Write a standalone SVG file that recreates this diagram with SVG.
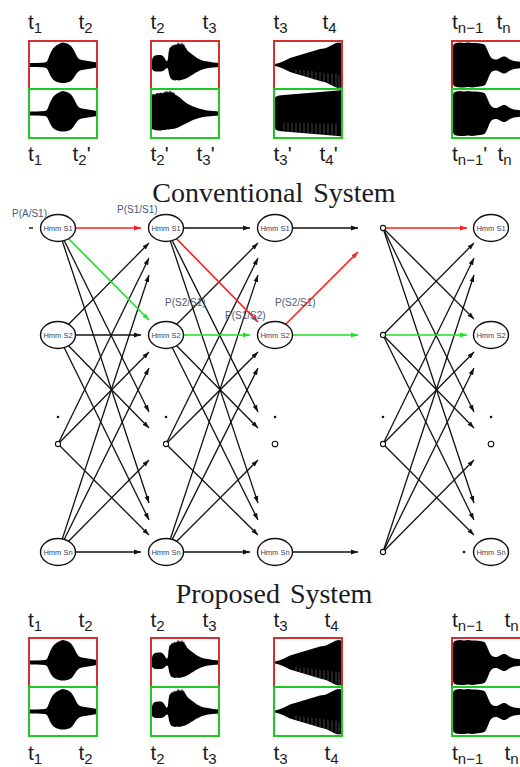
<svg xmlns="http://www.w3.org/2000/svg" xmlns:xlink="http://www.w3.org/1999/xlink" width="520" height="767" viewBox="0 0 520 767">
<style>
.t{font-family:"Liberation Sans",Arial,sans-serif;font-size:21px;fill:#1c1c24}
.s{font-size:15px}
.title{font-family:"Liberation Serif","Times New Roman",serif;font-size:28px;fill:#1a1a22;text-anchor:middle;word-spacing:3px}
.rb{fill:none;stroke:#d43030;stroke-width:2}
.gb{fill:none;stroke:#22c822;stroke-width:2}
.wf{fill:#000}
.stri{stroke:#fff;stroke-width:0.6;stroke-opacity:0.45}
.e{fill:none;stroke:#111;stroke-width:1.3}
.er{fill:none;stroke:#ff1c1c;stroke-width:1.6}
.eg{fill:none;stroke:#1ee01e;stroke-width:1.6}
.node ellipse{fill:#fff;stroke:#111;stroke-width:1.4}
.node text{font-family:"Liberation Sans",Arial,sans-serif;font-size:7.5px;fill:#3a4058;text-anchor:middle}
.sc{fill:#fff;stroke:#111;stroke-width:1.1}
.dot{fill:#111}
.pl{font-family:"Liberation Sans",Arial,sans-serif;font-size:10px;fill:#4a5878}
</style>
<defs>
<marker id="mk" markerUnits="userSpaceOnUse" markerWidth="8" markerHeight="6" refX="7" refY="3" orient="auto" viewBox="0 0 8 6"><path d="M0,0.6 L7,3 L0,5.4 Z" fill="#111"/></marker>
<marker id="mr" markerUnits="userSpaceOnUse" markerWidth="8" markerHeight="6" refX="7" refY="3" orient="auto" viewBox="0 0 8 6"><path d="M0,0.6 L7,3 L0,5.4 Z" fill="#ff1c1c"/></marker>
<marker id="mg" markerUnits="userSpaceOnUse" markerWidth="8" markerHeight="6" refX="7" refY="3" orient="auto" viewBox="0 0 8 6"><path d="M0,0.6 L7,3 L0,5.4 Z" fill="#1ee01e"/></marker>
<path id="wA" class="wf" d="M0,-2 L8,-2 L16,-2.5 L18,-3.5 L19.5,-7 L21,-11 L22.5,-14 L24,-16.5 L26,-18.5 L28,-20 L30,-21 L32,-22 L34,-22.5 L36,-22 L38,-21.5 L40,-20.5 L42,-19 L43.5,-17 L45,-14.5 L46.5,-11.5 L48,-8.5 L49.5,-6.5 L51,-5.5 L53,-5 L56,-4.5 L59,-4 L62,-3.5 L65,-3 L68,-2.5 L68,2.5 L65,3 L62,3.5 L59,4 L56,4.5 L53,5 L51,5.5 L49.5,6.5 L48,8 L46.5,10 L45,12.5 L43.5,14.5 L42,16 L40,17 L38,17.5 L36,18 L34,18 L32,18 L30,17.5 L28,17 L26,16 L24,14.5 L22.5,12.5 L21,10 L19.5,6.5 L18,3.5 L16,2.5 L8,2 L0,2 Z"/>
<path id="wB" class="wf" d="M0,-2 L1,-5 L2,-8 L4,-9.5 L7,-10 L10,-10 L12,-9 L13.5,-7 L15,-4.5 L16,-3.5 L17,-6 L17.5,-12 L18.5,-17 L20,-18 L21,-20 L22,-18.5 L23,-21 L24,-19.5 L25,-21 L26,-20 L27,-23 L28,-20.5 L29,-22 L30,-20 L31,-23 L32,-20 L33,-21 L34,-18 L35,-17 L36,-15 L38,-13 L40,-11.5 L42,-10 L44,-8.5 L46,-7 L48,-6 L50,-5 L53,-4 L57,-3.5 L62,-2.5 L68,-2 L68,2 L62,2.5 L57,3 L53,4 L50,5 L48,6 L46,7 L44,8 L42,9.5 L40,10.5 L38,12 L36,13 L34,14 L32,14.5 L30,15 L28,15.5 L26,15 L24,15.5 L22,15 L20,14 L19,12 L18,9 L17.5,6 L17,3.5 L16,3 L15,3.5 L13.5,5 L12,6 L10,6.5 L7,6.5 L4,6.5 L2,5.5 L1,4 L0,2 Z"/>
<path id="wBg" class="wf" d="M0,-14 L0.5,-18 L2,-19.5 L4,-19 L6,-20.5 L8,-20 L10,-21 L12,-20 L13,-22 L14,-20.5 L15,-23 L16,-21 L17,-22.5 L18,-20.5 L19,-23.5 L20,-21 L21,-22 L22,-20 L23,-21.5 L24,-19 L26,-18 L28,-16.5 L30,-15 L32,-13 L34,-11.5 L36,-10 L38,-9 L40,-8 L42,-7 L45,-6 L48,-5 L52,-4 L56,-3 L62,-2.5 L68,-2 L68,2 L62,2.5 L56,3 L52,3.5 L48,4.5 L45,5.5 L42,6.5 L40,7.5 L38,8.5 L36,9.5 L34,10.5 L32,11.5 L30,12.5 L28,13.5 L26,14.5 L24,15 L22,15.5 L20,15.5 L18,16 L16,16 L14,16.5 L12,16.5 L10,17 L8,17 L6,17 L4,16.5 L2,16 L0.5,15 L0,12 Z"/>
<g id="wC">
<path class="wf" d="M0,-0.8 L5,-2 L10,-4 L16,-7 L21,-8.5 L26,-10 L31,-11.5 L36,-13 L41,-14.5 L46,-16 L50,-16.5 L52,-17 L54,-18 L56,-19 L58,-20 L60,-21 L62,-22 L65,-22.5 L67,-22 L68,-21 L68,21 L67,22.5 L65,23 L62,22.5 L60,21.5 L58,20.5 L56,19.5 L54,18.5 L52,17.5 L50,17 L46,16 L41,14.5 L36,13 L31,11.5 L26,10 L21,8.5 L16,7 L10,4 L5,2 L0,0.8 Z"/>
<path class="stri" d="M22,4 V8 M26,5 V9.5 M30,5 V11 M34,6 V12.5 M38,6 V13.5 M42,7 V14.5 M46,7 V15.5 M50,8 V16.5 M54,8 V18 M58,9 V20 M62,9 V22 M65,10 V22.5"/>
</g>
<g id="wCg">
<path class="wf" d="M0,-10 L0.5,-15 L2,-17 L5,-18 L10,-18.5 L16,-19 L22,-19.5 L28,-20 L34,-20.5 L40,-21 L46,-21.5 L52,-22 L58,-22.5 L64,-23 L68,-23.5 L68,23 L64,22.5 L58,22 L52,21.5 L46,21 L40,20.5 L34,20 L28,19.5 L22,19 L16,18.5 L10,18 L5,17.5 L2,16.5 L0.5,14 L0,10 Z"/>
<path class="stri" d="M10,9 V17 M14,9 V18 M18,9 V18.5 M22,9 V19 M26,9 V19 M30,9 V19.5 M34,9 V20 M38,10 V20 M42,10 V20.5 M46,10 V21 M50,10 V21 M54,10 V21.5 M58,10 V22 M62,10 V22"/>
</g>
<path id="wD" class="wf" d="M0,-12 L0.5,-18 L2,-21 L4,-22 L8,-22.5 L12,-22 L16,-22.5 L20,-22 L24,-22 L28,-21.5 L31,-21 L33,-20 L34.5,-17 L36,-13.5 L37.5,-10 L39,-7.5 L41,-6 L43,-5.5 L45,-5.5 L47,-6.5 L49,-7.5 L51,-8.5 L53,-8.5 L55,-7.5 L57,-6 L59,-5 L62,-4 L66,-3.5 L70,-3 L70,3 L66,3.5 L62,4 L59,5 L57,6 L55,7.5 L53,8.5 L51,8.5 L49,7.5 L47,6.5 L45,5.5 L43,5.5 L41,6 L39,7.5 L37.5,10 L36,14 L34.5,17.5 L33,20 L31,21 L28,21.5 L24,22 L20,22.5 L16,22 L12,22.5 L8,22.5 L4,22 L2,21 L0.5,18 L0,12 Z"/>
</defs>
<rect width="520" height="767" fill="#fff"/>

<!-- Conventional waveforms -->
<g id="conv-waves">
<use href="#wA" x="29" y="65"/><use href="#wA" x="29" y="113.5"/>
<use href="#wB" x="151" y="65"/><use href="#wBg" x="151" y="113.5"/>
<use href="#wC" x="274" y="65"/><use href="#wCg" x="274" y="113.5"/>
<use href="#wD" x="452" y="65"/><use href="#wD" x="452" y="113.5"/>
<rect class="rb" x="29" y="41" width="68" height="48"/><rect class="rb" x="151" y="41" width="68" height="48"/>
<rect class="rb" x="274" y="41" width="68" height="48"/><rect class="rb" x="452" y="41" width="72" height="48"/>
<rect class="gb" x="29" y="89" width="68" height="49"/><rect class="gb" x="151" y="89" width="68" height="49"/>
<rect class="gb" x="274" y="89" width="68" height="49"/><rect class="gb" x="452" y="89" width="72" height="49"/>
</g>
<g id="conv-labels">
<text class="t" x="28" y="29">t<tspan class="s" dy="3.5">1</tspan></text>
<text class="t" x="78.5" y="29">t<tspan class="s" dy="3.5">2</tspan></text>
<text class="t" x="150.5" y="29">t<tspan class="s" dy="3.5">2</tspan></text>
<text class="t" x="202.5" y="29">t<tspan class="s" dy="3.5">3</tspan></text>
<text class="t" x="273.5" y="29">t<tspan class="s" dy="3.5">3</tspan></text>
<text class="t" x="322.5" y="29">t<tspan class="s" dy="3.5">4</tspan></text>
<text class="t" x="452" y="29">t<tspan class="s" dy="3.5">n−1</tspan></text>
<text class="t" x="496.5" y="29">t<tspan class="s" dy="3.5">n</tspan></text>
<text class="t" x="28" y="161">t<tspan class="s" dy="3.5">1</tspan></text>
<text class="t" x="72.5" y="161">t<tspan class="s" dy="3.5">2</tspan><tspan dy="-3.5">'</tspan></text>
<text class="t" x="150.5" y="161">t<tspan class="s" dy="3.5">2</tspan><tspan dy="-3.5">'</tspan></text>
<text class="t" x="196.5" y="161">t<tspan class="s" dy="3.5">3</tspan><tspan dy="-3.5">'</tspan></text>
<text class="t" x="273.5" y="161">t<tspan class="s" dy="3.5">3</tspan><tspan dy="-3.5">'</tspan></text>
<text class="t" x="319.5" y="161">t<tspan class="s" dy="3.5">4</tspan><tspan dy="-3.5">'</tspan></text>
<text class="t" x="452" y="161">t<tspan class="s" dy="3.5">n−1</tspan><tspan dy="-3.5">'</tspan></text>
<text class="t" x="497.5" y="161">t<tspan class="s" dy="3.5">n</tspan></text>
</g>
<text class="title" x="274" y="202">Conventional System</text>

<!-- Trellis connectors -->
<g id="connectors">
<g class="e" marker-end="url(#mk)">
<path d="M58,228 L149,412"/><path d="M58,228 L149,503"/>
<path d="M58,335 L149,243"/><path d="M58,335 L141,335"/><path d="M58,335 L149,428"/><path d="M58,335 L149,520"/>
<path d="M58,444 L149,258"/><path d="M58,444 L149,352"/><path d="M58,444 L149,535"/>
<path d="M58,552 L149,275"/><path d="M58,552 L149,368"/><path d="M58,552 L149,460"/><path d="M58,552 L141,552"/>
<path d="M166,228 L250,228"/><path d="M166,228 L258,412"/><path d="M166,228 L258,503"/>
<path d="M166,335 L258,243"/><path d="M166,335 L258,428"/><path d="M166,335 L258,520"/>
<path d="M166,444 L258,258"/><path d="M166,444 L258,352"/><path d="M166,444 L258,535"/>
<path d="M166,552 L258,275"/><path d="M166,552 L258,368"/><path d="M166,552 L258,460"/><path d="M166,552 L250,552"/>
<path d="M275,228 L358,228"/><path d="M275,552 L358,552"/>
<path d="M383,228 L474,319"/><path d="M383,228 L474,412"/><path d="M383,228 L474,503"/>
<path d="M383,335 L474,243"/><path d="M383,335 L474,428"/><path d="M383,335 L474,520"/>
<path d="M383,444 L474,258"/><path d="M383,444 L474,352"/><path d="M383,444 L474,535"/>
<path d="M383,552 L474,275"/><path d="M383,552 L474,368"/><path d="M383,552 L474,460"/>
</g>
<g class="er" marker-end="url(#mr)">
<path d="M58,228 L141,228"/>
<path d="M166,228 L258,322"/>
<path d="M275,335 L358,252"/>
<path d="M383,228 L467,228"/>
</g>
<g class="eg" marker-end="url(#mg)">
<path d="M58,228 L149,320"/>
<path d="M166,335 L250,335"/>
<path d="M275,335 L358,335"/>
<path d="M383,335 L467,335"/>
</g>
</g>

<!-- Nodes -->
<g id="n1-s1" class="node"><ellipse cx="58" cy="228" rx="17.5" ry="13.5"/><text x="58" y="230.5">Hmm S1</text></g>
<g id="n1-s2" class="node"><ellipse cx="58" cy="335" rx="17.5" ry="13.5"/><text x="58" y="337.5">Hmm S2</text></g>
<g id="n1-sn" class="node"><ellipse cx="58" cy="552" rx="17.5" ry="13.5"/><text x="58" y="554.5">Hmm Sn</text></g>
<g id="n2-s1" class="node"><ellipse cx="166" cy="228" rx="17.5" ry="13.5"/><text x="166" y="230.5">Hmm S1</text></g>
<g id="n2-s2" class="node"><ellipse cx="166" cy="335" rx="17.5" ry="13.5"/><text x="166" y="337.5">Hmm S2</text></g>
<g id="n2-sn" class="node"><ellipse cx="166" cy="552" rx="17.5" ry="13.5"/><text x="166" y="554.5">Hmm Sn</text></g>
<g id="n3-s1" class="node"><ellipse cx="275" cy="228" rx="17.5" ry="13.5"/><text x="275" y="230.5">Hmm S1</text></g>
<g id="n3-s2" class="node"><ellipse cx="275" cy="335" rx="17.5" ry="13.5"/><text x="275" y="337.5">Hmm S2</text></g>
<g id="n3-sn" class="node"><ellipse cx="275" cy="552" rx="17.5" ry="13.5"/><text x="275" y="554.5">Hmm Sn</text></g>
<g id="n5-s1" class="node"><ellipse cx="491" cy="228" rx="17.5" ry="13.5"/><text x="491" y="230.5">Hmm S1</text></g>
<g id="n5-s2" class="node"><ellipse cx="491" cy="335" rx="17.5" ry="13.5"/><text x="491" y="337.5">Hmm S2</text></g>
<g id="n5-sn" class="node"><ellipse cx="491" cy="552" rx="17.5" ry="13.5"/><text x="491" y="554.5">Hmm Sn</text></g>
<g id="small-nodes">
<circle class="sc" cx="58" cy="444" r="2.6"/>
<circle class="sc" cx="166" cy="444" r="2.6"/>
<circle class="sc" cx="275" cy="444" r="2.8"/>
<circle class="sc" cx="383" cy="228" r="2.6"/>
<circle class="sc" cx="383" cy="335" r="2.6"/>
<circle class="sc" cx="383" cy="444" r="2.6"/>
<circle class="sc" cx="383" cy="552" r="2.6"/>
<circle class="sc" cx="491" cy="444" r="2.8"/>
<circle class="dot" cx="58" cy="417" r="1.3"/>
<circle class="dot" cx="166" cy="417" r="1.3"/>
<circle class="dot" cx="275" cy="417" r="1.3"/>
<circle class="dot" cx="383" cy="417" r="1.3"/>
<circle class="dot" cx="491" cy="417" r="1.3"/>
<circle class="dot" cx="464" cy="552" r="1.3"/>
<rect class="dot" x="29" y="227.3" width="4" height="1.4"/>
</g>
<g id="prob-labels">
<text class="pl" x="12" y="217">P(A/S1)</text>
<text class="pl" x="117" y="212.5">P(S1/S1)</text>
<text class="pl" x="165" y="306">P(S2/S1)</text>
<text class="pl" x="225" y="319">P(S1/S2)</text>
<text class="pl" x="275" y="306">P(S2/S1)</text>
</g>

<text class="title" x="274" y="603">Proposed System</text>

<!-- Proposed waveforms -->
<g id="prop-waves">
<use href="#wA" x="29" y="662.5"/><use href="#wA" x="29" y="711.5"/>
<use href="#wB" x="151" y="662.5"/><use href="#wB" x="151" y="711.5"/>
<use href="#wC" x="274" y="662.5"/><use href="#wC" x="274" y="711.5"/>
<use href="#wD" x="452" y="662.5"/><use href="#wD" x="452" y="711.5"/>
<rect class="rb" x="29" y="638" width="68" height="49"/><rect class="rb" x="151" y="638" width="68" height="49"/>
<rect class="rb" x="274" y="638" width="68" height="49"/><rect class="rb" x="452" y="638" width="72" height="49"/>
<rect class="gb" x="29" y="687" width="68" height="49"/><rect class="gb" x="151" y="687" width="68" height="49"/>
<rect class="gb" x="274" y="687" width="68" height="49"/><rect class="gb" x="452" y="687" width="72" height="49"/>
</g>
<g id="prop-labels">
<text class="t" x="28" y="627">t<tspan class="s" dy="3.5">1</tspan></text>
<text class="t" x="78.5" y="627">t<tspan class="s" dy="3.5">2</tspan></text>
<text class="t" x="150.5" y="627">t<tspan class="s" dy="3.5">2</tspan></text>
<text class="t" x="202.5" y="627">t<tspan class="s" dy="3.5">3</tspan></text>
<text class="t" x="273.5" y="627">t<tspan class="s" dy="3.5">3</tspan></text>
<text class="t" x="324.5" y="627">t<tspan class="s" dy="3.5">4</tspan></text>
<text class="t" x="452" y="627">t<tspan class="s" dy="3.5">n−1</tspan></text>
<text class="t" x="504.5" y="627">t<tspan class="s" dy="3.5">n</tspan></text>
<text class="t" x="28" y="760">t<tspan class="s" dy="3.5">1</tspan></text>
<text class="t" x="78.5" y="760">t<tspan class="s" dy="3.5">2</tspan></text>
<text class="t" x="150.5" y="760">t<tspan class="s" dy="3.5">2</tspan></text>
<text class="t" x="202.5" y="760">t<tspan class="s" dy="3.5">3</tspan></text>
<text class="t" x="273.5" y="760">t<tspan class="s" dy="3.5">3</tspan></text>
<text class="t" x="324.5" y="760">t<tspan class="s" dy="3.5">4</tspan></text>
<text class="t" x="452" y="760">t<tspan class="s" dy="3.5">n−1</tspan></text>
<text class="t" x="504.5" y="760">t<tspan class="s" dy="3.5">n</tspan></text>
</g>
</svg>
